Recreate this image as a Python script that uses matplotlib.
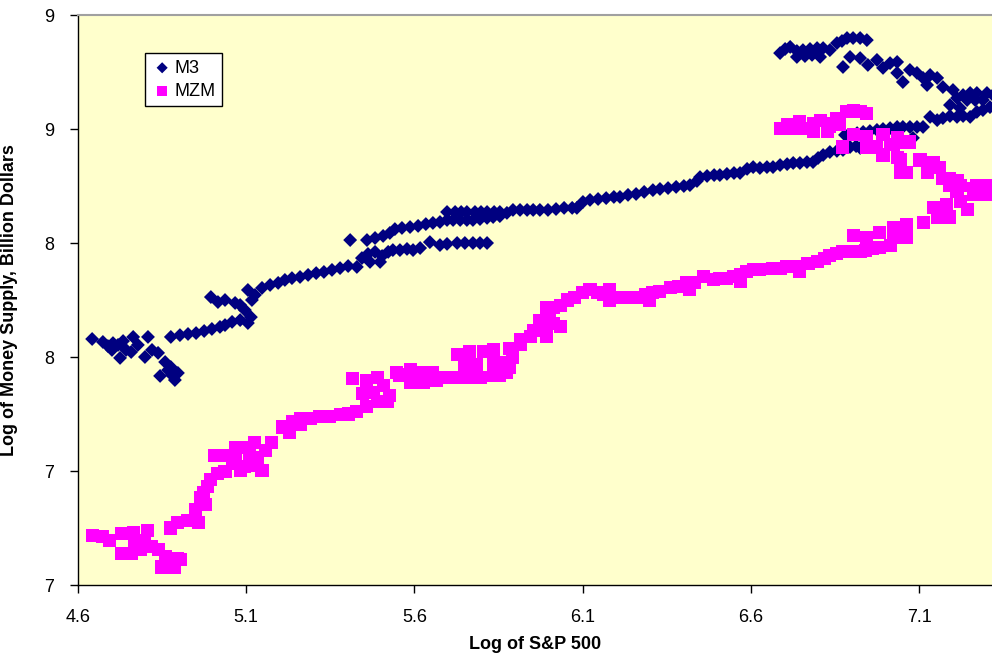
import numpy as np
import matplotlib
matplotlib.use("Agg")
import matplotlib.pyplot as plt
from matplotlib.ticker import FixedLocator, FuncFormatter

plt.rcParams['font.family'] = ['Liberation Sans', 'DejaVu Sans']

# M3: (log S&P 500, log money supply) pairs
m3_points = [
    (4.642, 7.579), (4.674, 7.566), (4.689, 7.548), (4.704, 7.561), (4.719, 7.553),
    (4.734, 7.570), (4.701, 7.531), (4.725, 7.496), (4.743, 7.531), (4.758, 7.522),
    (4.764, 7.588), (4.778, 7.553), (4.799, 7.500), (4.808, 7.588), (4.820, 7.531),
    (4.838, 7.518), (4.844, 7.417), (4.859, 7.478), (4.868, 7.443), (4.876, 7.456),
    (4.888, 7.399), (4.897, 7.430), (4.879, 7.421), (4.876, 7.588), (4.903, 7.596),
    (4.927, 7.601), (4.951, 7.605), (4.975, 7.614), (4.998, 7.623), (5.022, 7.632),
    (5.037, 7.640), (5.058, 7.654), (5.082, 7.662), (5.105, 7.649), (5.114, 7.675),
    (5.096, 7.706), (5.082, 7.728), (5.067, 7.737), (5.037, 7.750), (4.995, 7.763),
    (5.016, 7.741), (5.105, 7.794), (5.126, 7.772), (5.117, 7.750), (5.147, 7.803),
    (5.171, 7.816), (5.195, 7.825), (5.215, 7.838), (5.236, 7.846), (5.260, 7.851),
    (5.284, 7.860), (5.308, 7.868), (5.331, 7.873), (5.355, 7.882), (5.379, 7.890),
    (5.403, 7.899), (5.429, 7.895), (5.444, 7.934), (5.462, 7.952), (5.483, 7.961),
    (5.504, 7.943), (5.522, 7.961), (5.536, 7.969), (5.468, 7.917), (5.498, 7.917),
    (5.557, 7.969), (5.578, 7.974), (5.596, 7.969), (5.617, 7.978), (5.646, 8.004),
    (5.676, 7.991), (5.697, 7.996), (5.727, 8.000), (5.750, 8.000), (5.774, 8.000),
    (5.795, 8.000), (5.816, 8.000),
    (5.409, 8.013), (5.459, 8.013), (5.483, 8.022), (5.507, 8.031), (5.527, 8.044),
    (5.542, 8.061), (5.563, 8.066), (5.587, 8.070), (5.611, 8.075), (5.634, 8.083),
    (5.655, 8.088), (5.676, 8.092), (5.697, 8.101), (5.715, 8.101), (5.736, 8.101),
    (5.756, 8.101), (5.774, 8.101), (5.795, 8.105), (5.816, 8.110), (5.834, 8.114),
    (5.854, 8.118), (5.875, 8.132), (5.893, 8.145), (5.914, 8.145), (5.935, 8.145),
    (5.953, 8.145), (5.697, 8.136), (5.721, 8.136), (5.739, 8.136), (5.756, 8.136),
    (5.780, 8.136), (5.798, 8.136), (5.816, 8.136), (5.837, 8.136), (5.854, 8.136),
    (5.973, 8.145), (5.997, 8.145), (6.021, 8.149), (6.045, 8.154), (6.069, 8.154),
    (6.083, 8.154), (6.101, 8.180), (6.122, 8.189), (6.146, 8.193), (6.170, 8.197),
    (6.193, 8.202), (6.211, 8.202), (6.235, 8.211), (6.259, 8.215), (6.283, 8.224),
    (6.309, 8.232), (6.330, 8.237), (6.354, 8.241), (6.378, 8.246), (6.401, 8.250),
    (6.419, 8.254), (6.440, 8.272), (6.449, 8.289), (6.470, 8.294), (6.491, 8.298),
    (6.508, 8.298), (6.529, 8.303), (6.550, 8.307), (6.568, 8.307), (6.589, 8.325),
    (6.607, 8.333), (6.627, 8.329), (6.648, 8.333), (6.666, 8.333), (6.687, 8.342),
    (6.708, 8.346), (6.726, 8.351), (6.746, 8.351), (6.767, 8.355), (6.785, 8.355),
    (6.800, 8.373), (6.815, 8.386), (6.835, 8.399), (6.856, 8.404), (6.874, 8.408),
    (6.895, 8.421), (6.913, 8.425), (6.925, 8.417),
    (6.880, 8.474), (6.895, 8.474), (6.916, 8.482), (6.934, 8.487), (6.954, 8.491),
    (6.975, 8.496), (6.993, 8.500), (7.014, 8.504), (7.035, 8.509), (7.052, 8.509),
    (7.073, 8.509), (7.094, 8.509), (7.112, 8.509), (7.082, 8.461), (7.133, 8.553),
    (7.154, 8.539), (7.171, 8.548), (7.192, 8.557), (7.213, 8.553), (7.231, 8.557),
    (7.252, 8.553), (7.272, 8.575), (7.290, 8.583), (7.311, 8.596), (7.290, 8.627),
    (7.267, 8.627), (7.243, 8.627), (7.222, 8.592), (7.192, 8.605), (7.213, 8.636),
    (7.231, 8.649), (7.252, 8.658), (7.272, 8.658), (7.302, 8.658), (7.320, 8.649),
    (7.201, 8.671), (7.171, 8.684), (7.154, 8.724), (7.133, 8.737), (7.112, 8.724),
    (7.124, 8.693), (7.094, 8.746), (7.073, 8.759), (7.052, 8.706), (7.035, 8.746),
    (7.035, 8.794), (7.014, 8.789), (6.993, 8.768), (6.975, 8.803), (6.948, 8.781),
    (6.925, 8.811), (6.895, 8.816), (6.874, 8.772),
    (6.945, 8.890), (6.925, 8.899), (6.904, 8.899), (6.886, 8.899), (6.871, 8.886),
    (6.856, 8.877), (6.835, 8.846), (6.815, 8.855), (6.797, 8.855), (6.776, 8.851),
    (6.755, 8.846), (6.737, 8.842), (6.717, 8.860), (6.702, 8.851), (6.687, 8.833),
    (6.737, 8.816), (6.761, 8.820), (6.782, 8.825), (6.806, 8.816),
]

# MZM
mzm_points = [
    (4.642, 6.719), (4.674, 6.711), (4.695, 6.697), (4.728, 6.728), (4.764, 6.732),
    (4.808, 6.741), (4.728, 6.640), (4.758, 6.640), (4.787, 6.654), (4.817, 6.667),
    (4.838, 6.654), (4.799, 6.684), (4.769, 6.697), (4.859, 6.623), (4.897, 6.618),
    (4.847, 6.579), (4.888, 6.575), (4.906, 6.610),
    (4.876, 6.750), (4.897, 6.776), (4.927, 6.785), (4.957, 6.776), (4.948, 6.829),
    (4.978, 6.851), (4.963, 6.882), (4.972, 6.904), (4.986, 6.930), (4.995, 6.961),
    (5.016, 6.991), (5.037, 6.996), (5.007, 7.070), (5.037, 7.070), (5.067, 7.048),
    (5.096, 7.018), (5.126, 7.026), (5.135, 7.061), (5.096, 7.105), (5.126, 7.123),
    (5.174, 7.127), (5.058, 7.035), (5.082, 7.004), (5.147, 7.004), (5.111, 7.070),
    (5.067, 7.101), (5.156, 7.092),
    (5.209, 7.193), (5.239, 7.215), (5.230, 7.171), (5.260, 7.202),
    (5.260, 7.232), (5.290, 7.232), (5.319, 7.237), (5.349, 7.241), (5.379, 7.246),
    (5.403, 7.250), (5.429, 7.259), (5.459, 7.281),
    (5.489, 7.303), (5.519, 7.303), (5.447, 7.342), (5.477, 7.346), (5.527, 7.333),
    (5.507, 7.377), (5.459, 7.399), (5.415, 7.404), (5.489, 7.408), (5.548, 7.434),
    (5.587, 7.443), (5.626, 7.434), (5.655, 7.430), (5.587, 7.390), (5.626, 7.390),
    (5.557, 7.421), (5.667, 7.399), (5.691, 7.408), (5.706, 7.408), (5.736, 7.408),
    (5.756, 7.412), (5.795, 7.412), (5.834, 7.421), (5.854, 7.417),
    (5.875, 7.434), (5.884, 7.456), (5.750, 7.465), (5.786, 7.465), (5.834, 7.478),
    (5.854, 7.478), (5.893, 7.496),
    (5.727, 7.509), (5.765, 7.522), (5.804, 7.522), (5.834, 7.531), (5.884, 7.539),
    (5.914, 7.553), (5.914, 7.575), (5.944, 7.588), (5.953, 7.618), (5.973, 7.618),
    (5.973, 7.662), (5.994, 7.588), (6.003, 7.675),
    (6.012, 7.719), (5.994, 7.715), (6.012, 7.649), (6.033, 7.632), (6.033, 7.728),
    (6.054, 7.750), (6.077, 7.763), (6.101, 7.785), (6.122, 7.794), (6.143, 7.781),
    (6.161, 7.772), (6.181, 7.794), (6.181, 7.750), (6.199, 7.763), (6.220, 7.759),
    (6.241, 7.759), (6.262, 7.763), (6.286, 7.772), (6.300, 7.750), (6.309, 7.785),
    (6.330, 7.789), (6.360, 7.803), (6.384, 7.811), (6.410, 7.825), (6.419, 7.794),
    (6.434, 7.825), (6.458, 7.851), (6.488, 7.838), (6.508, 7.846), (6.529, 7.846),
    (6.550, 7.855), (6.568, 7.860), (6.568, 7.833), (6.586, 7.873), (6.607, 7.882),
    (6.627, 7.882), (6.666, 7.890), (6.687, 7.890), (6.705, 7.899), (6.726, 7.895),
    (6.746, 7.899), (6.746, 7.877), (6.770, 7.912), (6.797, 7.917), (6.818, 7.934),
    (6.835, 7.947), (6.856, 7.952), (6.874, 7.961), (6.895, 7.961), (6.925, 7.961),
    (6.942, 7.969), (6.963, 7.978), (6.984, 7.982), (7.014, 7.991),
    (6.904, 8.035), (6.945, 8.026), (6.984, 8.044),
    (7.023, 8.022), (7.064, 8.022), (7.023, 8.066), (7.064, 8.079), (7.112, 8.092),
    (7.154, 8.110), (7.192, 8.114), (7.142, 8.154), (7.183, 8.167), (7.222, 8.180),
    (7.243, 8.145), (7.261, 8.211), (7.302, 8.211), (7.213, 8.224), (7.192, 8.254),
    (7.222, 8.254), (7.261, 8.241), (7.302, 8.241), (7.171, 8.285), (7.192, 8.285),
    (7.124, 8.311), (7.162, 8.333), (7.044, 8.311), (7.064, 8.311), (7.044, 8.364),
    (7.103, 8.364), (7.142, 8.351), (6.993, 8.386), (7.035, 8.377), (7.064, 8.443),
    (7.023, 8.430), (6.975, 8.417), (6.945, 8.417), (6.904, 8.474), (6.945, 8.465),
    (6.993, 8.474), (7.035, 8.461), (7.073, 8.443), (6.975, 8.421), (7.014, 8.430),
    (6.874, 8.421), (6.827, 8.526), (6.865, 8.518), (6.746, 8.531), (6.726, 8.504),
    (6.785, 8.487), (6.827, 8.487), (6.687, 8.504), (6.886, 8.575), (6.925, 8.575),
    (6.945, 8.570), (6.737, 8.509), (6.785, 8.526), (6.835, 8.509), (6.856, 8.548),
    (6.895, 8.575), (6.708, 8.518), (6.767, 8.504), (6.806, 8.539), (6.904, 8.583),
    (7.272, 8.254), (7.311, 8.254), (7.213, 8.276),
]

x_ticks = [4.6, 5.1, 5.6, 6.1, 6.6, 7.1]
y_ticks = [6.5, 7.0, 7.5, 8.0, 8.5, 9.0]

m3_x, m3_y = zip(*m3_points)
mzm_x, mzm_y = zip(*mzm_points)

fig = plt.figure(figsize=(9.92, 6.6), dpi=100)
ax = fig.add_axes([78 / 992, 1 - 585 / 660, 1 - 78 / 992, 570 / 660])
ax.set_facecolor('#FFFFCC')

ax.scatter(m3_x, m3_y, marker='D', s=50, color='#000080', edgecolors='none', label='M3', zorder=2)
ax.scatter(mzm_x, mzm_y, marker='s', s=88, color='#FF00FF', edgecolors='none', label='MZM', zorder=3)

ax.set_xlim(4.6, 7.317)
ax.set_ylim(6.5, 9.0)

ax.xaxis.set_major_locator(FixedLocator(x_ticks))
ax.yaxis.set_major_locator(FixedLocator(y_ticks))
ax.xaxis.set_major_formatter(FuncFormatter(lambda v, p: '%.1f' % v))
# Excel-style rounding to whole numbers (6.5 -> 7)
ax.yaxis.set_major_formatter(FuncFormatter(lambda v, p: '%d' % int(np.floor(v + 0.5))))
ax.tick_params(axis='both', direction='out', length=6, width=1, pad=11, labelsize=13, colors='black')

for side in ['left', 'bottom']:
    ax.spines[side].set_color('black')
    ax.spines[side].set_linewidth(1)
ax.spines['top'].set_color('#A0A0A0')
ax.spines['top'].set_linewidth(1.5)
ax.spines['right'].set_visible(False)

ax.set_xlabel('Log of S&P 500', fontsize=13, fontweight='bold')
ax.set_ylabel('Log of Money Supply, Billion Dollars', fontsize=13, fontweight='bold')
ax.xaxis.set_label_coords(0.5, -0.09)
ax.yaxis.set_label_coords(-0.066, 0.5)

leg = ax.legend(loc='upper left', bbox_to_anchor=(0.0733, 0.933), fontsize=13,
                frameon=True, fancybox=False, framealpha=1, edgecolor='black',
                borderpad=0.35, handletextpad=0.1, labelspacing=0.35,
                handlelength=1.2, markerscale=0.8, borderaxespad=0)
leg.get_frame().set_linewidth(1)

plt.savefig('out.png', dpi=100)
plt.close()
